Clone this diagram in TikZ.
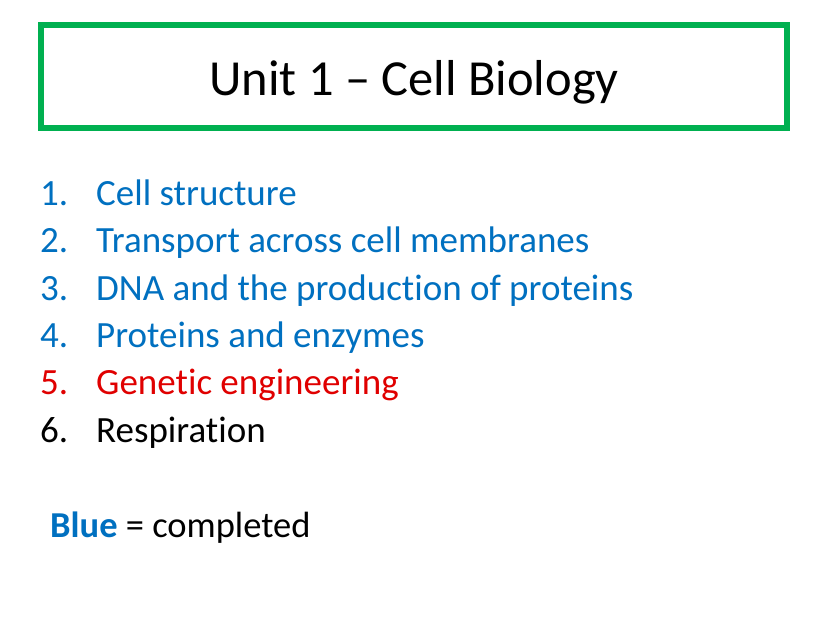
\documentclass[tikz,border=0pt]{standalone}
\usepackage{fontspec}
\setmainfont{Carlito}[Ligatures=NoCommon]
\definecolor{boxgreen}{HTML}{00B050}
\definecolor{doneblue}{HTML}{0070C0}
\definecolor{nowred}{HTML}{E00000}
\begin{document}
\begin{tikzpicture}[x=1pt,y=-1pt,
  item/.style={anchor=base west,inner sep=0pt,font=\fontsize{37}{44}\selectfont},
  num/.style={item}]
\useasboundingbox[fill=white] (0,0) rectangle (828,621);
\node[draw=boxgreen,line width=6pt,minimum width=746pt,minimum height=103pt,inner sep=0pt] (title) at (414,76.5) {};
\node[anchor=base,inner sep=0pt,font=\fontsize{50.5}{60}\selectfont] (ttext) at (414,95.5) {Unit 1 – Cell Biology};
\node[num,doneblue] (n1) at (40,205) {1.};
\node[item,doneblue] (t1) at (96,205) {Cell structure};
\node[num,doneblue] (n2) at (40,252) {2.};
\node[item,doneblue] (t2) at (96,252) {Transport across cell membranes};
\node[num,doneblue] (n3) at (40,300) {3.};
\node[item,doneblue] (t3) at (96,300) {DNA and the production of proteins};
\node[num,doneblue] (n4) at (40,347) {4.};
\node[item,doneblue] (t4) at (96,347) {Proteins and enzymes};
\node[num,nowred] (n5) at (40,394) {5.};
\node[item,nowred] (t5) at (96,394) {Genetic engineering};
\node[num] (n6) at (40,442) {6.};
\node[item] (t6) at (96,442) {Respiration};
\node[item,font=\fontsize{36.5}{44}\selectfont] (legend) at (50,537) {\textcolor{doneblue}{\bfseries Blue} = completed};
\end{tikzpicture}
\end{document}
